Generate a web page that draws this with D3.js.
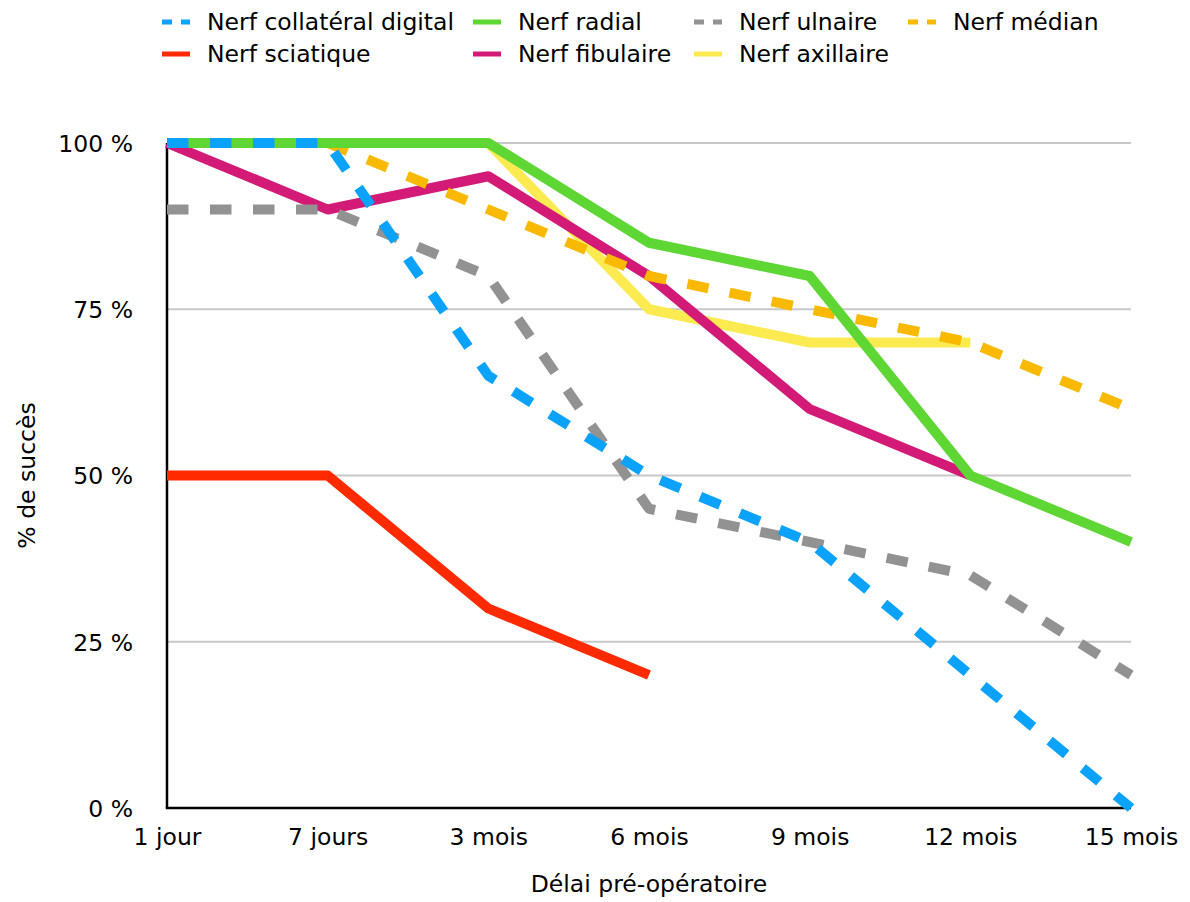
<!DOCTYPE html>
<html lang="fr">
<head>
<meta charset="utf-8">
<script src="https://cdn.jsdelivr.net/npm/d3@7"></script>
<style>
  html, body { margin: 0; padding: 0; background: #fff; }
  svg { display: block; font-family: "DejaVu Sans", sans-serif; }
</style>
</head>
<body>
<svg id="chart" width="1190" height="902"></svg>
<script>
// Délai pré-opératoire (catégories de l'axe X)
const delais = ["1 jour", "7 jours", "3 mois", "6 mois", "9 mois", "12 mois", "15 mois"];

// % de succès par nerf (null = pas de donnée)
const collateralDigital = [100, 100, 65, 50, 40, 20, 0];
const sciatique         = [50, 50, 30, 20, null, null, null];
const radial            = [100, 100, 100, 85, 80, 50, 40];
const fibulaire         = [100, 90, 95, 80, 60, 50, null];
const ulnaire           = [90, 90, 80, 45, 40, 35, 20];
const axillaire         = [100, 100, 100, 75, 70, 70, null];
const median            = [null, 100, 90, 80, 75, 70, 60];

const yTicks = [0, 25, 50, 75, 100];

const series = [
  { name: "Nerf collatéral digital", values: collateralDigital, color: "#0AA2FB", dashed: true },
  { name: "Nerf sciatique",          values: sciatique,         color: "#FF2A00", dashed: false },
  { name: "Nerf radial",             values: radial,            color: "#5ED634", dashed: false },
  { name: "Nerf fibulaire",          values: fibulaire,         color: "#D21A76", dashed: false },
  { name: "Nerf ulnaire",            values: ulnaire,           color: "#929292", dashed: true },
  { name: "Nerf axillaire",          values: axillaire,         color: "#FCEB50", dashed: false },
  { name: "Nerf médian",             values: median,            color: "#F8B900", dashed: true }
];

// Ordre de superposition des courbes (de dessous vers dessus)
const drawOrder = ["Nerf axillaire", "Nerf fibulaire", "Nerf médian", "Nerf ulnaire",
                   "Nerf radial", "Nerf sciatique", "Nerf collatéral digital"];

const svg = d3.select("#chart");
const plot = { left: 167, right: 1131, top: 143, bottom: 808 };
const fontSize = 23.5;

const x = d3.scalePoint().domain(delais).range([plot.left, plot.right]);
const y = d3.scaleLinear().domain([0, 100]).range([plot.bottom, plot.top]);

// Grille horizontale
svg.append("g")
  .selectAll("line")
  .data(yTicks.filter(t => t > 0))
  .join("line")
  .attr("x1", plot.left).attr("x2", plot.right)
  .attr("y1", d => y(d)).attr("y2", d => y(d))
  .attr("stroke", "#c8c8c8")
  .attr("stroke-width", 2);

// Axe Y : étiquettes
const yAxis = d3.axisLeft(y).tickValues(yTicks).tickSize(0).tickPadding(0)
  .tickFormat(d => d + " %");
const gy = svg.append("g").attr("transform", `translate(${plot.left - 34},0)`).call(yAxis);
gy.select(".domain").remove();
gy.selectAll("text")
  .attr("font-family", "DejaVu Sans, sans-serif")
  .attr("font-size", fontSize)
  .attr("fill", "#000")
  .attr("dy", "0.36em");

// Axe X : étiquettes
const xAxis = d3.axisBottom(x).tickSize(0).tickPadding(0);
const gx = svg.append("g").attr("transform", `translate(0,${plot.bottom + 20})`).call(xAxis);
gx.select(".domain").remove();
gx.selectAll("text")
  .attr("font-family", "DejaVu Sans, sans-serif")
  .attr("font-size", fontSize)
  .attr("fill", "#000")
  .attr("dy", "0.71em");

// Lignes des axes
svg.append("line")
  .attr("x1", plot.left).attr("x2", plot.left)
  .attr("y1", plot.top).attr("y2", plot.bottom)
  .attr("stroke", "#000").attr("stroke-width", 2.5);
svg.append("line")
  .attr("x1", plot.left - 1.25).attr("x2", plot.right)
  .attr("y1", plot.bottom).attr("y2", plot.bottom)
  .attr("stroke", "#000").attr("stroke-width", 2.5);

// Courbes
const line = d3.line()
  .defined(d => d.v != null)
  .x(d => x(d.cat))
  .y(d => y(d.v));

const ordered = drawOrder.map(n => series.find(s => s.name === n));
svg.append("g")
  .selectAll("path")
  .data(ordered)
  .join("path")
  .attr("d", s => line(s.values.map((v, i) => ({ cat: delais[i], v }))))
  .attr("fill", "none")
  .attr("stroke", s => s.color)
  .attr("stroke-width", 10)
  .attr("stroke-linejoin", "round")
  .attr("stroke-linecap", "butt")
  .attr("stroke-dasharray", s => s.dashed ? "21.5,21.5" : null);

// Titres des axes
svg.append("text")
  .attr("x", (plot.left + plot.right) / 2)
  .attr("y", 884)
  .attr("text-anchor", "middle")
  .attr("dy", "0.36em")
  .attr("font-size", fontSize)
  .text("Délai pré-opératoire");

svg.append("text")
  .attr("transform", `translate(27,${(plot.top + plot.bottom) / 2}) rotate(-90)`)
  .attr("text-anchor", "middle")
  .attr("dy", "0.36em")
  .attr("font-size", fontSize)
  .text("% de succès");

// Légende (2 lignes, remplie colonne par colonne)
const legendCols = [162, 473, 694, 908];
const legendRows = [22, 54];
const swatchLen = 28;
const legend = svg.append("g")
  .selectAll("g")
  .data(series)
  .join("g")
  .attr("transform", (s, i) => `translate(${legendCols[Math.floor(i / 2)]},${legendRows[i % 2]})`);

legend.append("line")
  .attr("x1", 0).attr("x2", swatchLen)
  .attr("y1", 0).attr("y2", 0)
  .attr("stroke", s => s.color)
  .attr("stroke-width", 5)
  .attr("stroke-dasharray", s => s.dashed ? "10,9" : null);

legend.append("text")
  .attr("x", swatchLen + 17)
  .attr("y", 0)
  .attr("dy", "0.36em")
  .attr("font-size", fontSize)
  .text(s => s.name);
</script>
</body>
</html>
